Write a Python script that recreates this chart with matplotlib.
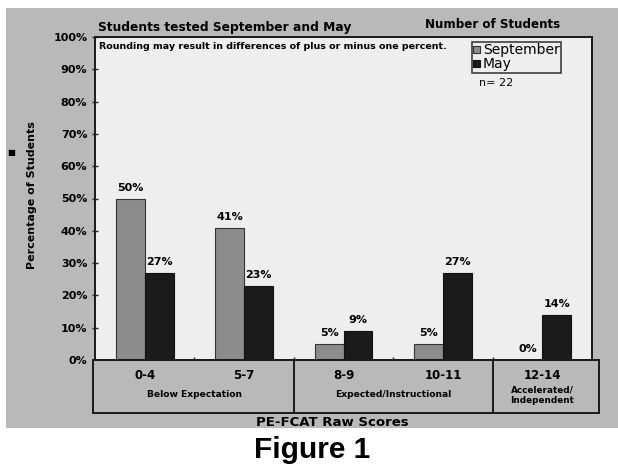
import matplotlib
matplotlib.use("Agg")

import matplotlib.pyplot as plt
from matplotlib.patches import Rectangle

# data
categories = ["0-4", "5-7", "8-9", "10-11", "12-14"]
september = [50, 41, 5, 5, 0]
may = [27, 23, 9, 27, 14]
groups = ["Below Expectation", "Expected/Instructional", "Accelerated/\nIndependent"]
y_ticks = [0, 10, 20, 30, 40, 50, 60, 70, 80, 90, 100]

W, H = 618, 474
BG = "#b9b9b9"
PLOT_BG = "#eeeeee"
SEPT_C = "#8c8c8c"
MAY_C = "#1b1b1b"
FONT = "DejaVu Sans"

fig = plt.figure(figsize=(W / 100, H / 100), dpi=100)
fig.patch.set_facecolor("white")

# gray scanned card behind the chart
fig.patches.append(Rectangle((6 / W, 1 - 428 / H), 1 - 6 / W, (428 - 8) / H,
                             transform=fig.transFigure, facecolor=BG,
                             edgecolor="none", zorder=-5))


def px(x0, y0, x1, y1):
    return [x0 / W, 1 - y1 / H, (x1 - x0) / W, (y1 - y0) / H]


ax = fig.add_axes(px(95, 37, 592, 360))
ax.set_facecolor(PLOT_BG)

xs = range(len(categories))
bw = 0.29
ax.bar([x - bw / 2 for x in xs], september, bw, color=SEPT_C,
       edgecolor="#333333", linewidth=0.8, label="September", zorder=2)
ax.bar([x + bw / 2 for x in xs], may, bw, color=MAY_C,
       edgecolor="#111111", linewidth=0.8, label="May", zorder=2)

for x, s, m in zip(xs, september, may):
    ax.text(x - bw / 2, s + 1.8, f"{s}%", ha="center", va="bottom",
            fontsize=8, fontweight="bold", family=FONT)
    ax.text(x + bw / 2, m + 1.8, f"{m}%", ha="center", va="bottom",
            fontsize=8, fontweight="bold", family=FONT)

ax.set_xlim(-0.5, len(categories) - 0.5)
ax.set_ylim(0, 100)
ax.set_yticks(y_ticks)
ax.set_yticklabels([f"{t}%" for t in y_ticks], fontsize=8, fontweight="bold",
                   family=FONT)
ax.set_xticks([0.5, 1.5, 2.5, 3.5])
ax.set_xticklabels([])
ax.tick_params(axis="both", direction="inout", length=5, width=1,
               color="#222222", pad=3)
for sp in ax.spines.values():
    sp.set_linewidth(1.4)
    sp.set_color("#1a1a1a")

ax.text(0.008, 0.985, "Rounding may result in differences of plus or minus one percent.",
        transform=ax.transAxes, ha="left", va="top", fontsize=6.8,
        fontweight="bold", family=FONT)

leg = ax.legend(loc="upper left", bbox_to_anchor=((472 - 95) / 497, 1 - 5 / 323),
                fontsize=10, frameon=True, fancybox=False, handlelength=0.45,
                handleheight=0.45, handletextpad=0.25, borderpad=0.1,
                labelspacing=0.0, borderaxespad=0)
leg.get_frame().set_edgecolor("#111111")
leg.get_frame().set_linewidth(1.2)
leg.get_frame().set_facecolor(PLOT_BG)
ax.text((479 - 95) / 497, 1 - (83 - 37) / 323, "n= 22", transform=ax.transAxes,
        ha="left", va="center", fontsize=8, family=FONT)

# category box under the axis
bx = fig.add_axes(px(93, 360, 599, 413))
bx.set_facecolor(BG)
x_per_px = 5 / 497
bx.set_xlim(-0.5 - 2 * x_per_px, 4.5 + 7 * x_per_px)
bx.set_ylim(0, 1)
bx.set_xticks([])
bx.set_yticks([])
for sp in bx.spines.values():
    sp.set_linewidth(1.4)
    sp.set_color("#1a1a1a")
for d in [1.5, 3.5]:
    bx.axvline(d, color="#1a1a1a", linewidth=1.4)
for x, c in zip(xs, categories):
    bx.text(x, 0.7, c, ha="center", va="center", fontsize=8.5, family=FONT,
            fontweight="bold")
bx.text(0.5, 0.35, groups[0], ha="center", va="center", fontsize=6.6,
        family=FONT, fontweight="bold")
bx.text(2.5, 0.35, groups[1], ha="center", va="center", fontsize=6.6,
        family=FONT, fontweight="bold")
bx.text(4.0, 0.33, groups[2], ha="center", va="center", fontsize=6.4,
        family=FONT, fontweight="bold", linespacing=1.15)

# titles and captions
fig.text(98 / W, 1 - 28 / H, "Students tested September and May", ha="left",
         va="center", fontsize=8.8, fontweight="bold", family=FONT)
fig.text(425 / W, 1 - 25 / H, "Number of Students", ha="left", va="center",
         fontsize=8.6, fontweight="bold", family=FONT)
fig.text(32 / W, 1 - 195 / H, "Percentage of Students", rotation=90,
         ha="center", va="center", fontsize=8, fontweight="bold", family=FONT)
fig.text(11 / W, 1 - 153 / H, "\u25a0", ha="center", va="center", fontsize=6,
         family=FONT)
fig.text(332 / W, 1 - 422 / H, "PE-FCAT Raw Scores", ha="center", va="center",
         fontsize=9.5, fontweight="bold", family=FONT)
fig.text(312 / W, 1 - 450 / H, "Figure 1", ha="center", va="center",
         fontsize=21.5, fontweight="bold", family="Liberation Sans")

fig.savefig("out.png", dpi=100)
